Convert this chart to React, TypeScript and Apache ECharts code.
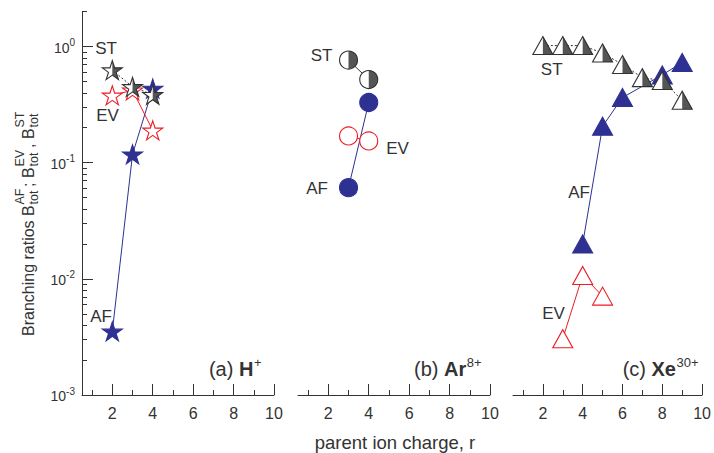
import React, { useEffect, useRef } from "react";
import * as echarts from "echarts";

// ---------- data ----------
const rH = [2, 3, 4];
const H_ST = [0.627, 0.45, 0.385];
const H_EV = [0.38, 0.42, 0.19];
const H_AF = [0.00353, 0.118, 0.435];

const rAr = [3, 4];
const Ar_ST = [0.765, 0.52];
const Ar_EV = [0.17, 0.154];
const Ar_AF = [0.061, 0.33];

const rXeST = [2, 3, 4, 5, 6, 7, 8, 9];
const Xe_ST = [1.02, 1.02, 1.02, 0.88, 0.7, 0.54, 0.51, 0.345];
const rXeAF = [4, 5, 6, 8, 9];
const Xe_AF = [0.02, 0.206, 0.364, 0.57, 0.73];
const rXeEV = [3, 4, 5];
const Xe_EV = [0.00305, 0.0107, 0.0071];

const xMajor = [2, 4, 6, 8, 10];
const xMinor = [1, 3, 5, 7, 9];
const yMajor = [0.001, 0.01, 0.1, 1];
const yMinor = [
  0.002, 0.003, 0.004, 0.005, 0.006, 0.007, 0.008, 0.009,
  0.02, 0.03, 0.04, 0.05, 0.06, 0.07, 0.08, 0.09,
  0.2, 0.3, 0.4, 0.5, 0.6, 0.7, 0.8, 0.9, 2,
];

// ---------- styles ----------
const FONT = "'Liberation Sans', Arial, Helvetica, sans-serif";
const DARK = "#333333";
const HALF = "#2a2a2a";
const BLUE = "#2e3192";
const RED = "#ec1c24";

function starPath(half: boolean) {
  const pts: string[] = [];
  const n = half ? 6 : 10;
  for (let i = 0; i < n; i++) {
    const a = -Math.PI / 2 + (i * Math.PI) / 5;
    const r = i % 2 === 0 ? 1 : 0.382;
    const x = Math.abs(r * Math.cos(a)) < 1e-9 ? 0 : r * Math.cos(a);
    pts.push(x.toFixed(4) + "," + (r * Math.sin(a)).toFixed(4));
  }
  return "path://M" + pts.join(" L") + " Z";
}
const STAR = starPath(false);
const STAR_HALF = starPath(true);
const TRI_HALF = "path://M0,0 L0,1 L1,1 Z";
const CIRC_HALF = "path://M0,-1 C0.5523,-1 1,-0.5523 1,0 C1,0.5523 0.5523,1 0,1 Z";

const STAR_SIZE = [20, 19];
const CIRC_SIZE = 18;
const TRI_SIZE = [20, 18];

function pairs(xs: number[], ys: number[]) {
  return xs.map((x, i) => [x, ys[i]]);
}

function mainSeries(
  xs: number[], ys: number[], xi: number, yi: number,
  symbol: string, size: any, fill: string, border: string,
  lineColor: string, lineType: any
) {
  return {
    type: "line",
    xAxisIndex: xi,
    yAxisIndex: yi,
    data: pairs(xs, ys),
    symbol,
    symbolSize: size,
    showSymbol: true,
    showAllSymbol: true,
    itemStyle: { color: fill, borderColor: border, borderWidth: 1.1 },
    lineStyle: { color: lineColor, width: 1, type: lineType },
    silent: true,
    z: 2,
  };
}

function halfSeries(xs: number[], ys: number[], xi: number, yi: number, symbol: string, size: number[]) {
  return {
    type: "scatter",
    xAxisIndex: xi,
    yAxisIndex: yi,
    data: pairs(xs, ys),
    symbol,
    symbolSize: size,
    symbolOffset: [size[0] / 2, 0],
    itemStyle: { color: HALF, borderWidth: 0 },
    silent: true,
    z: 2,
  };
}

const GRIDS = [
  { left: 82, top: 11.6, width: 192, height: 383.4 },
  { left: 298, top: 11.6, width: 192, height: 383.4 },
  { left: 513, top: 11.6, width: 194, height: 383.4 },
];

function xAxesFor(gi: number) {
  return [
    {
      type: "value", gridIndex: gi, min: 0.5, max: 10, position: "bottom",
      axisLine: { show: true, onZero: false, lineStyle: { color: DARK, width: 1 } },
      axisTick: { show: true, inside: true, length: 11, customValues: xMajor, lineStyle: { color: DARK } },
      axisLabel: {
        show: true, customValues: xMajor, margin: 10, color: DARK,
        fontSize: 16, fontFamily: FONT,
      },
      splitLine: { show: false },
    },
    {
      type: "value", gridIndex: gi, min: 0.5, max: 10, position: "bottom",
      axisLine: { show: false, onZero: false },
      axisTick: { show: true, inside: true, length: 5, customValues: xMinor, lineStyle: { color: DARK } },
      axisLabel: { show: false },
      splitLine: { show: false },
    },
  ];
}

export default function App() {
  const ref = useRef<HTMLDivElement>(null);
  useEffect(() => {
    if (!ref.current) return;
    const chart = echarts.init(ref.current, undefined, { renderer: "svg" });

    const yAxis: any[] = [
      {
        type: "log", logBase: 10, gridIndex: 0, min: 0.001, max: 2, position: "left",
        axisLine: { show: true, lineStyle: { color: DARK, width: 1 } },
        axisTick: { show: true, inside: true, length: 11, customValues: yMajor, lineStyle: { color: DARK } },
        axisLabel: {
          show: true, customValues: yMajor, margin: 7, color: DARK,
          formatter: (v: number) => {
            const e = String(Math.round(Math.log10(v)));
            return "{b|10}{s|" + e + "}";
          },
          rich: {
            b: { fontSize: 14, fontFamily: FONT, color: DARK, verticalAlign: "bottom", lineHeight: 16 },
            s: { fontSize: 10, fontFamily: FONT, color: DARK, verticalAlign: "bottom", lineHeight: 16, padding: [0, 0, 7, 0] },
          },
        },
        splitLine: { show: false },
      },
      {
        type: "log", logBase: 10, gridIndex: 0, min: 0.001, max: 2, position: "left",
        axisLine: { show: false },
        axisTick: { show: true, inside: true, length: 5, customValues: yMinor, lineStyle: { color: DARK } },
        axisLabel: { show: false },
        splitLine: { show: false },
      },
      { type: "log", logBase: 10, gridIndex: 1, min: 0.001, max: 2, show: false },
      { type: "log", logBase: 10, gridIndex: 2, min: 0.001, max: 2, show: false },
    ];

    const xAxis = [...xAxesFor(0), ...xAxesFor(1), ...xAxesFor(2)];

    const series: any[] = [
      // (a) H+
      mainSeries(rH, H_AF, 0, 0, STAR, STAR_SIZE, BLUE, BLUE, BLUE, "solid"),
      mainSeries(rH, H_EV, 0, 0, STAR, STAR_SIZE, "#ffffff", RED, RED, "solid"),
      mainSeries(rH, H_ST, 0, 0, STAR, STAR_SIZE, "#ffffff", DARK, DARK, [2, 2]),
      halfSeries(rH, H_ST, 0, 0, STAR_HALF, [STAR_SIZE[0] / 2, STAR_SIZE[1]]),
      // (b) Ar8+
      mainSeries(rAr, Ar_AF, 2, 2, "circle", CIRC_SIZE, BLUE, BLUE, BLUE, "solid"),
      mainSeries(rAr, Ar_EV, 2, 2, "circle", CIRC_SIZE, "#ffffff", RED, RED, "solid"),
      mainSeries(rAr, Ar_ST, 2, 2, "circle", CIRC_SIZE, "#ffffff", DARK, DARK, "solid"),
      halfSeries(rAr, Ar_ST, 2, 2, CIRC_HALF, [CIRC_SIZE / 2, CIRC_SIZE]),
      // (c) Xe30+
      mainSeries(rXeAF, Xe_AF, 4, 3, "triangle", TRI_SIZE, BLUE, BLUE, BLUE, "solid"),
      mainSeries(rXeEV, Xe_EV, 4, 3, "triangle", TRI_SIZE, "#ffffff", RED, RED, "solid"),
      mainSeries(rXeST, Xe_ST, 4, 3, "triangle", TRI_SIZE, "#ffffff", DARK, DARK, [2, 2]),
      halfSeries(rXeST, Xe_ST, 4, 3, TRI_HALF, [TRI_SIZE[0] / 2, TRI_SIZE[1]]),
    ];

    const lbl = (text: string, x: number, y: number) => ({
      type: "text", x, y, silent: true,
      style: { text, fill: DARK, font: `17px ${FONT}`, textAlign: "center", textVerticalAlign: "middle" },
    });

    const panelTitle = (pre: string, el: string, sup: string, right: number, supW: number) => ({
      type: "group", silent: true,
      children: [
        {
          type: "text", x: right - supW, y: 379,
          style: {
            text: `{n|${pre}}{b|${el}}`, textAlign: "right", textVerticalAlign: "bottom",
            rich: {
              n: { fontSize: 20, fontFamily: FONT, fill: DARK, color: DARK },
              b: { fontSize: 20, fontFamily: FONT, fontWeight: "bold", fill: DARK, color: DARK },
            },
          },
        },
        {
          type: "text", x: right - supW + 0.5, y: 356,
          style: { text: sup, fill: DARK, font: `13px ${FONT}`, textAlign: "left", textVerticalAlign: "top" },
        },
      ],
    });

    // y-axis title, rotated (reads bottom to top)
    const yt = (text: string, lx: number, ly: number, size: number) => ({
      type: "text", x: lx, y: ly, silent: true,
      style: { text, fill: DARK, font: `${size}px ${FONT}`, textAlign: "left", textVerticalAlign: "middle" },
    });
    const titleGroup = {
      type: "group", x: 28, y: 336, rotation: Math.PI / 2, silent: true,
      children: [
        yt("Branching ratios", 0, 0, 16),
        yt("B", 120, 0, 16),
        yt("AF", 131.5, -8, 12.5),
        yt("tot", 131.5, 6, 12.5),
        yt(";", 149, 0, 16),
        yt("B", 158, 0, 16),
        yt("EV", 169.5, -8, 12.5),
        yt("tot", 169.5, 6, 12.5),
        yt(",", 188, 0, 16),
        yt("B", 197, 0, 16),
        yt("ST", 208.5, -8, 12.5),
        yt("tot", 208.5, 6, 12.5),
      ],
    };

    const graphic: any[] = [
      lbl("ST", 106, 48), lbl("EV", 107.5, 115), lbl("AF", 101, 316),
      lbl("ST", 321.5, 55.5), lbl("EV", 397.5, 148), lbl("AF", 317, 188),
      lbl("ST", 551.7, 69), lbl("AF", 579, 192), lbl("EV", 553.5, 313),
      panelTitle("(a) ", "H", "+", 261, 7.6),
      panelTitle("(b) ", "Ar", "8+", 481, 14.8),
      panelTitle("(c) ", "Xe", "30+", 698, 22),
      {
        type: "text", x: 395, y: 442, silent: true,
        style: { text: "parent ion charge, r", fill: DARK, font: `18.5px ${FONT}`, textAlign: "center", textVerticalAlign: "middle" },
      },
      titleGroup,
    ];

    chart.setOption({
      animation: false,
      backgroundColor: "#ffffff",
      textStyle: { fontFamily: FONT },
      grid: GRIDS,
      xAxis,
      yAxis,
      series,
      graphic,
    });
    return () => chart.dispose();
  }, []);

  return (
    <div
      ref={ref}
      style={{ position: "fixed", left: 0, top: 0, width: 714, height: 453 }}
    />
  );
}
